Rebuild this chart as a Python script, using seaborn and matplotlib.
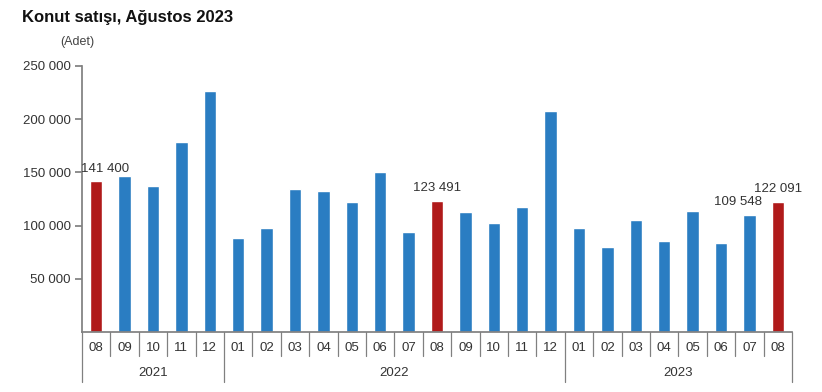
import seaborn as sns
import matplotlib.pyplot as plt
import matplotlib.transforms as mtransforms
import pandas as pd

years = ["2021"] * 5 + ["2022"] * 12 + ["2023"] * 8
months = ["08", "09", "10", "11", "12",
          "01", "02", "03", "04", "05", "06", "07", "08", "09", "10", "11", "12",
          "01", "02", "03", "04", "05", "06", "07", "08"]
sales = [141400, 146598, 137187, 178636, 226785,
         88291, 97587, 134001, 132723, 122451, 150509, 93838, 123491, 112672, 102348, 117641, 208026,
         97979, 80071, 105476, 85783, 113315, 83303, 109548, 122091]
highlight = [True] + [False] * 11 + [True] + [False] * 11 + [True]
labelled = [0, 12, 23, 24]

df = pd.DataFrame({"key": [y + "-" + m for y, m in zip(years, months)],
                   "sales": sales, "hl": highlight})

sns.set_theme(style="white")
plt.rcParams['font.family'] = ['Liberation Sans', 'DejaVu Sans']

fig = plt.figure(figsize=(8.22, 3.92), dpi=100)
ax = fig.add_axes([0.0998, 0.153, 0.8637, 0.679])

sns.barplot(data=df, x="key", y="sales", hue="hl",
            palette={False: "#2a7dc2", True: "#b01a1a"},
            dodge=False, legend=False, width=0.44, ax=ax, saturation=1)

ax.set_xlim(-0.5, len(sales) - 0.5)
ax.set_ylim(0, 250000)
ax.set_yticks([50000, 100000, 150000, 200000, 250000])
ax.set_yticklabels([f"{v:,}".replace(",", " ") for v in [50000, 100000, 150000, 200000, 250000]])
ax.tick_params(axis="y", left=True, length=5, color="#808080", labelsize=9.5, labelcolor="#333333", pad=3)
ax.set_xticks(range(len(months)))
ax.set_xticklabels(months)
ax.tick_params(axis="x", bottom=False, length=0, labelsize=9.5, labelcolor="#333333", pad=7)
ax.set_xlabel("")
ax.set_ylabel("")
for s in ["top", "right"]:
    ax.spines[s].set_visible(False)
ax.spines["left"].set_color("#808080")
ax.spines["bottom"].set_color("#808080")

# separators under the axis
trans = mtransforms.blended_transform_factory(ax.transData, ax.transAxes)
bounds = [0]
for i in range(1, len(years)):
    if years[i] != years[i - 1]:
        bounds.append(i)
bounds.append(len(years))
for i in range(len(months) + 1):
    low = -0.188 if i in bounds else -0.09
    ax.plot([i - 0.5, i - 0.5], [0, low], color="#808080", lw=0.9,
            transform=trans, clip_on=False)
for a, b in zip(bounds[:-1], bounds[1:]):
    ax.text((a + b - 1) / 2, -0.153, years[a], transform=trans,
            ha="center", va="center", fontsize=9.5, color="#333333")

for i in labelled:
    dx = -8 if i == 23 else (6 if i == 0 else 0)
    ax.annotate(f"{sales[i]:,}".replace(",", " "), (i, sales[i]),
                xytext=(dx, 5), textcoords="offset points",
                ha="center", va="bottom", fontsize=9.5, color="#333333")

fig.text(0.027, 0.955, "Konut satışı, Ağustos 2023", fontsize=12, fontweight="bold",
         ha="left", va="center", color="#111111")
fig.text(0.073, 0.893, "(Adet)", fontsize=9, ha="left", va="center", color="#444444")

plt.savefig("out.png", dpi=100)
